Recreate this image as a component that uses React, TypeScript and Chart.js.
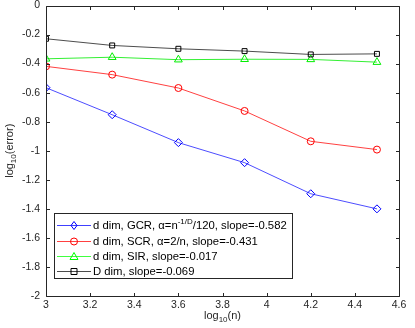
import React, { useEffect, useRef } from "react";
import { Chart, registerables } from "chart.js";

Chart.register(...registerables);

const xValues = [3, 3.3, 3.6, 3.9, 4.2, 4.5];
const gcrValues = [-0.566, -0.752, -0.944, -1.082, -1.296, -1.4];
const scrValues = [-0.419, -0.476, -0.568, -0.726, -0.935, -0.992];
const sirValues = [-0.367, -0.356, -0.373, -0.37, -0.371, -0.39];
const dDimValues = [-0.229, -0.275, -0.298, -0.314, -0.337, -0.333];

const xTickValues = [3, 3.2, 3.4, 3.6, 3.8, 4, 4.2, 4.4, 4.6];
const yTickValues = [0, -0.2, -0.4, -0.6, -0.8, -1, -1.2, -1.4, -1.6, -1.8, -2];

const FONT = "'Liberation Sans', Arial, Helvetica, sans-serif";
const AXIS_COLOR = "#262626";
const LEGEND_FONT = 11.3;

type LegendItem = { color: string; style: string; parts: { t: string; sup?: boolean }[] };
const legendItems: LegendItem[] = [
  {
    color: "#0000ff",
    style: "diamond",
    parts: [
      { t: "d dim, GCR, \u03b1=n" },
      { t: "-1/D", sup: true },
      { t: "/120, slope=-0.582" },
    ],
  },
  { color: "#ff0000", style: "circle", parts: [{ t: "d dim, SCR, \u03b1=2/n, slope=-0.431" }] },
  { color: "#00ff00", style: "triangle", parts: [{ t: "d dim, SIR, slope=-0.017" }] },
  { color: "#000000", style: "square", parts: [{ t: "D dim, slope=-0.069" }] },
];

function drawMarker(ctx: CanvasRenderingContext2D, style: string, x: number, y: number, color: string) {
  ctx.save();
  ctx.strokeStyle = color;
  ctx.lineWidth = 1;
  ctx.beginPath();
  const r = 3.5;
  if (style === "diamond") {
    ctx.moveTo(x, y - r - 0.5);
    ctx.lineTo(x + r - 0.5, y);
    ctx.lineTo(x, y + r + 0.5);
    ctx.lineTo(x - r + 0.5, y);
    ctx.closePath();
  } else if (style === "circle") {
    ctx.arc(x, y, r, 0, Math.PI * 2);
  } else if (style === "triangle") {
    ctx.moveTo(x, y - r - 0.5);
    ctx.lineTo(x + r + 0.5, y + r - 0.5);
    ctx.lineTo(x - r - 0.5, y + r - 0.5);
    ctx.closePath();
  } else {
    ctx.rect(x - 3, y - 3, 6, 6);
  }
  ctx.stroke();
  ctx.restore();
}

const matlabPlugin = {
  id: "matlabDecor",
  afterDraw(chart: any) {
    const ctx: CanvasRenderingContext2D = chart.ctx;
    const ca = chart.chartArea;
    const xs = chart.scales.x;
    const ys = chart.scales.y;
    const L = Math.round(ca.left) + 0.5;
    const R = Math.round(ca.right) + 0.5;
    const T = Math.round(ca.top) + 0.5;
    const B = Math.round(ca.bottom) + 0.5;
    ctx.save();
    ctx.strokeStyle = AXIS_COLOR;
    ctx.lineWidth = 1;
    ctx.beginPath();
    ctx.rect(L, T, R - L, B - T);
    ctx.stroke();
    const tl = 3.5;
    ctx.beginPath();
    xTickValues.forEach((v) => {
      const px = Math.round(xs.getPixelForValue(v)) + 0.5;
      ctx.moveTo(px, B);
      ctx.lineTo(px, B - tl);
      ctx.moveTo(px, T);
      ctx.lineTo(px, T + tl);
    });
    yTickValues.forEach((v) => {
      const py = Math.round(ys.getPixelForValue(v)) + 0.5;
      ctx.moveTo(L, py);
      ctx.lineTo(L + tl, py);
      ctx.moveTo(R, py);
      ctx.lineTo(R - tl, py);
    });
    ctx.stroke();

    // axis titles
    ctx.fillStyle = AXIS_COLOR;
    ctx.textBaseline = "alphabetic";
    const measure = () => {
      ctx.font = `11px ${FONT}`;
      const w1 = ctx.measureText("log").width;
      ctx.font = `8px ${FONT}`;
      const w2 = ctx.measureText("10").width;
      return { w1, w2 };
    };
    // x title
    {
      const rest = "(n)";
      const m = measure();
      ctx.font = `11px ${FONT}`;
      const w3 = ctx.measureText(rest).width;
      const total = m.w1 + m.w2 + w3;
      const cx = (ca.left + ca.right) / 2;
      let x = cx - total / 2;
      const y = 319;
      ctx.textAlign = "left";
      ctx.fillText("log", x, y);
      x += m.w1;
      ctx.font = `8px ${FONT}`;
      ctx.fillText("10", x, y + 3);
      x += m.w2;
      ctx.font = `11px ${FONT}`;
      ctx.fillText(rest, x, y);
    }
    // y title
    {
      const rest = "(error)";
      const m = measure();
      ctx.font = `11px ${FONT}`;
      const w3 = ctx.measureText(rest).width;
      const total = m.w1 + m.w2 + w3;
      ctx.save();
      ctx.translate(13, (ca.top + ca.bottom) / 2);
      ctx.rotate(-Math.PI / 2);
      let x = -total / 2;
      ctx.textAlign = "left";
      ctx.fillText("log", x, 0);
      x += m.w1;
      ctx.font = `8px ${FONT}`;
      ctx.fillText("10", x, 3);
      x += m.w2;
      ctx.font = `11px ${FONT}`;
      ctx.fillText(rest, x, 0);
      ctx.restore();
    }

    // legend
    const lx = 54.5, ly = 213.5, lw = 238, lh = 65;
    ctx.fillStyle = "#ffffff";
    ctx.fillRect(lx, ly, lw, lh);
    ctx.strokeStyle = AXIS_COLOR;
    ctx.strokeRect(lx, ly, lw, lh);
    const rows = [225, 241, 256, 271];
    legendItems.forEach((it, i) => {
      const y = rows[i] + 0.5;
      ctx.strokeStyle = it.color;
      ctx.globalAlpha = it.color === "#000000" ? 0.7 : 0.75;
      ctx.beginPath();
      ctx.moveTo(57, y);
      ctx.lineTo(91, y);
      ctx.stroke();
      ctx.globalAlpha = 1;
      drawMarker(ctx, it.style, 74, y, it.color);
      let x = 93;
      ctx.fillStyle = "#000";
      ctx.textAlign = "left";
      ctx.textBaseline = "middle";
      it.parts.forEach((p) => {
        ctx.font = p.sup ? `8px ${FONT}` : `${LEGEND_FONT}px ${FONT}`;
        ctx.fillText(p.t, x, p.sup ? y - 4 : y + 0.5);
        x += ctx.measureText(p.t).width;
      });
    });
    ctx.restore();
  },
};

function makeDataset(values: number[], color: string, lineColor: string, pointStyle: any, radius: number) {
  return {
    data: values.map((v, i) => ({ x: xValues[i], y: v })),
    borderColor: lineColor,
    borderWidth: 1,
    pointBorderColor: color,
    pointBackgroundColor: "rgba(0,0,0,0)",
    pointBorderWidth: 1,
    pointStyle,
    pointRadius: radius,
    tension: 0,
  };
}

export default function App() {
  const ref = useRef<HTMLCanvasElement>(null);
  useEffect(() => {
    document.body.style.margin = "0";
    const canvas = ref.current!;
    const chart = new Chart(canvas, {
      type: "line",
      data: {
        datasets: [
          makeDataset(dDimValues, "#000000", "rgba(0,0,0,0.7)", "rect", 3.5),
          makeDataset(sirValues, "#00ee00", "rgba(0,235,0,0.8)", "triangle", 4.5),
          makeDataset(scrValues, "#ff0000", "rgba(255,0,0,0.75)", "circle", 3.5),
          makeDataset(gcrValues, "#0000ff", "rgba(0,0,255,0.7)", "rectRot", 4),
        ] as any,
      },
      options: {
        animation: false,
        responsive: false,
        devicePixelRatio: 1,
        layout: { padding: { left: 0, right: 16, top: 5, bottom: 0 } },
        plugins: { legend: { display: false }, tooltip: { enabled: false } },
        scales: {
          x: {
            type: "linear",
            min: 3,
            max: 4.6,
            afterBuildTicks: (s: any) => {
              s.ticks = xTickValues.map((v) => ({ value: v }));
            },
            afterFit: (s: any) => {
              s.height = 32;
              s.paddingLeft = 0;
              s.paddingRight = 0;
            },
            grid: { display: false, drawTicks: false },
            border: { display: false },
            ticks: {
              padding: 3,
              color: AXIS_COLOR,
              font: { family: FONT, size: 10.5 },
              maxRotation: 0,
              autoSkip: false,
              callback: (v: any) => String(Number(Number(v).toFixed(1))),
            },
          },
          y: {
            type: "linear",
            min: -2,
            max: 0,
            afterBuildTicks: (s: any) => {
              s.ticks = yTickValues.map((v) => ({ value: v }));
            },
            afterFit: (s: any) => {
              s.width = 46;
              s.paddingTop = 0;
              s.paddingBottom = 0;
            },
            grid: { display: false, drawTicks: false },
            border: { display: false },
            ticks: {
              padding: 6,
              color: AXIS_COLOR,
              font: { family: FONT, size: 10.5 },
              autoSkip: false,
              callback: (v: any) => String(Number(Number(v).toFixed(1))),
            },
          },
        },
      } as any,
      plugins: [matlabPlugin],
    });
    return () => chart.destroy();
  }, []);
  return (
    <div style={{ width: 415, height: 328 }}>
      <canvas ref={ref} width={415} height={328} style={{ width: 415, height: 328, display: "block" }} />
    </div>
  );
}
